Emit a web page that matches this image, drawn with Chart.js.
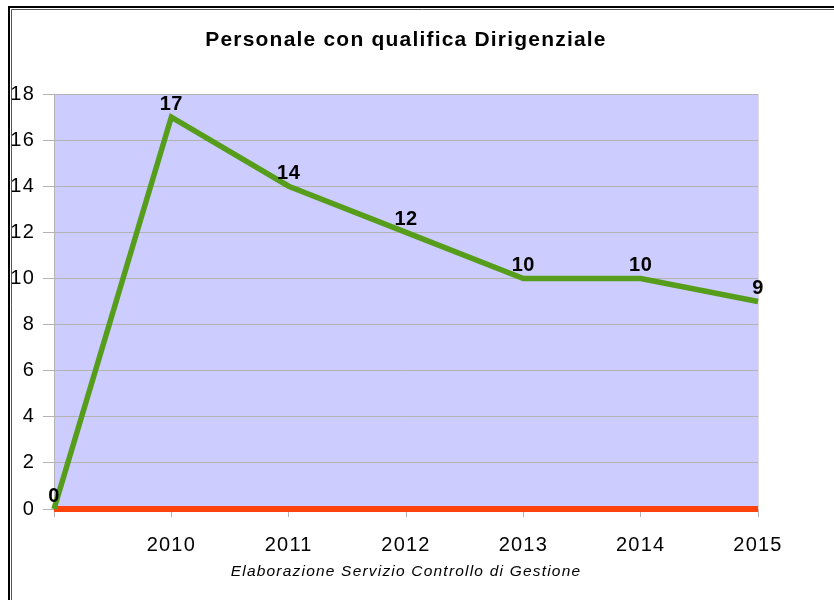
<!DOCTYPE html>
<html>
<head>
<meta charset="utf-8">
<script src="https://cdn.jsdelivr.net/npm/chart.js@4.4.0/dist/chart.umd.min.js"></script>
<style>
  body { margin: 0; background: #fff; }
  canvas { display: block; }
</style>
</head>
<body>
<canvas id="dirigenti" width="834" height="600"></canvas>
<script>
// data
var years = ['', '2010', '2011', '2012', '2013', '2014', '2015']
var dirigenti = [0, 17, 14, 12, 10, 10, 9]
var baseline = [0, 0, 0, 0, 0, 0, 0]
var yTicks = [0, 2, 4, 6, 8, 10, 12, 14, 16, 18]

var FONT = '"Liberation Sans", Arial, sans-serif'

// white page, lavender plot and the double frame at left/top
var backdrop = {
  id: 'backdrop',
  beforeDraw: function(chart) {
    var ctx = chart.ctx, a = chart.chartArea
    ctx.save()
    ctx.fillStyle = '#ffffff'
    ctx.fillRect(0, 0, chart.width, chart.height)
    ctx.fillStyle = '#ccccff'
    ctx.fillRect(a.left, a.top, a.right - a.left, a.bottom - a.top)
    ctx.strokeStyle = '#000'
    ctx.lineWidth = 2
    ctx.beginPath()
    ctx.moveTo(9, chart.height); ctx.lineTo(9, 7); ctx.lineTo(chart.width, 7)
    ctx.stroke()
    ctx.strokeStyle = '#555'
    ctx.lineWidth = 1
    ctx.beginPath()
    ctx.moveTo(11.5, chart.height); ctx.lineTo(11.5, 9.5); ctx.lineTo(chart.width, 9.5)
    ctx.stroke()
    ctx.restore()
    // the original text is a bit spread out
    ctx.letterSpacing = '1.2px'
  },
  afterDraw: function(chart) {
    chart.ctx.letterSpacing = '0px'
  }
}

// value labels above the green line
var valueLabels = {
  id: 'valueLabels',
  afterDatasetsDraw: function(chart) {
    var ctx = chart.ctx
    var meta = chart.getDatasetMeta(0)
    ctx.save()
    ctx.letterSpacing = '0.5px'
    ctx.font = 'bold 20px ' + FONT
    ctx.fillStyle = '#000'
    ctx.textAlign = 'center'
    ctx.textBaseline = 'middle'
    meta.data.forEach(function(pt, i) {
      ctx.fillText(String(dirigenti[i]), pt.x, pt.y - 13)
    })
    ctx.restore()
  }
}

new Chart(document.getElementById('dirigenti'), {
  type: 'line',
  data: {
    labels: years,
    datasets: [{
      data: dirigenti,
      borderColor: '#579d1c',
      borderWidth: 5.5,
      pointRadius: 0,
      tension: 0,
      clip: false
    }, {
      data: baseline,
      borderColor: '#ff420e',
      borderWidth: 6,
      pointRadius: 0,
      tension: 0,
      clip: false
    }]
  },
  options: {
    responsive: false,
    animation: false,
    layout: { padding: { left: 0, right: 76, top: 0, bottom: 0 } },
    plugins: {
      legend: { display: false },
      tooltip: { enabled: false },
      title: {
        display: true,
        fullSize: false,
        text: 'Personale con qualifica Dirigenziale',
        color: '#000',
        font: { family: FONT, size: 21, weight: 'bold' },
        padding: { top: 27.4, bottom: 41.4 }
      }
    },
    scales: {
      x: {
        offset: false,
        afterFit: function(scale) { scale.height = 91 },
        grid: {
          drawOnChartArea: true,
          color: function(c) { return c.index === 6 ? '#dddddd' : 'rgba(0,0,0,0)' },
          tickColor: '#b3b3b3',
          tickLength: 8
        },
        border: { display: false },
        ticks: {
          color: '#000',
          padding: 16,
          maxRotation: 0,
          autoSkip: false,
          font: { family: FONT, size: 20 }
        },
        title: {
          display: true,
          text: 'Elaborazione Servizio Controllo di Gestione',
          color: '#000',
          font: { family: FONT, size: 15.5, style: 'italic' },
          padding: { top: 0, bottom: 19 }
        }
      },
      y: {
        min: 0,
        max: 18,
        afterFit: function(scale) { scale.width = 54 },
        afterBuildTicks: function(scale) {
          scale.ticks = yTicks.map(function(v) { return { value: v } })
        },
        grid: { color: '#b3b3b3', tickLength: 11 },
        border: { color: '#b3b3b3' },
        ticks: {
          color: '#000',
          padding: 8,
          font: { family: FONT, size: 20 }
        }
      }
    }
  },
  plugins: [backdrop, valueLabels]
})
</script>
</body>
</html>
